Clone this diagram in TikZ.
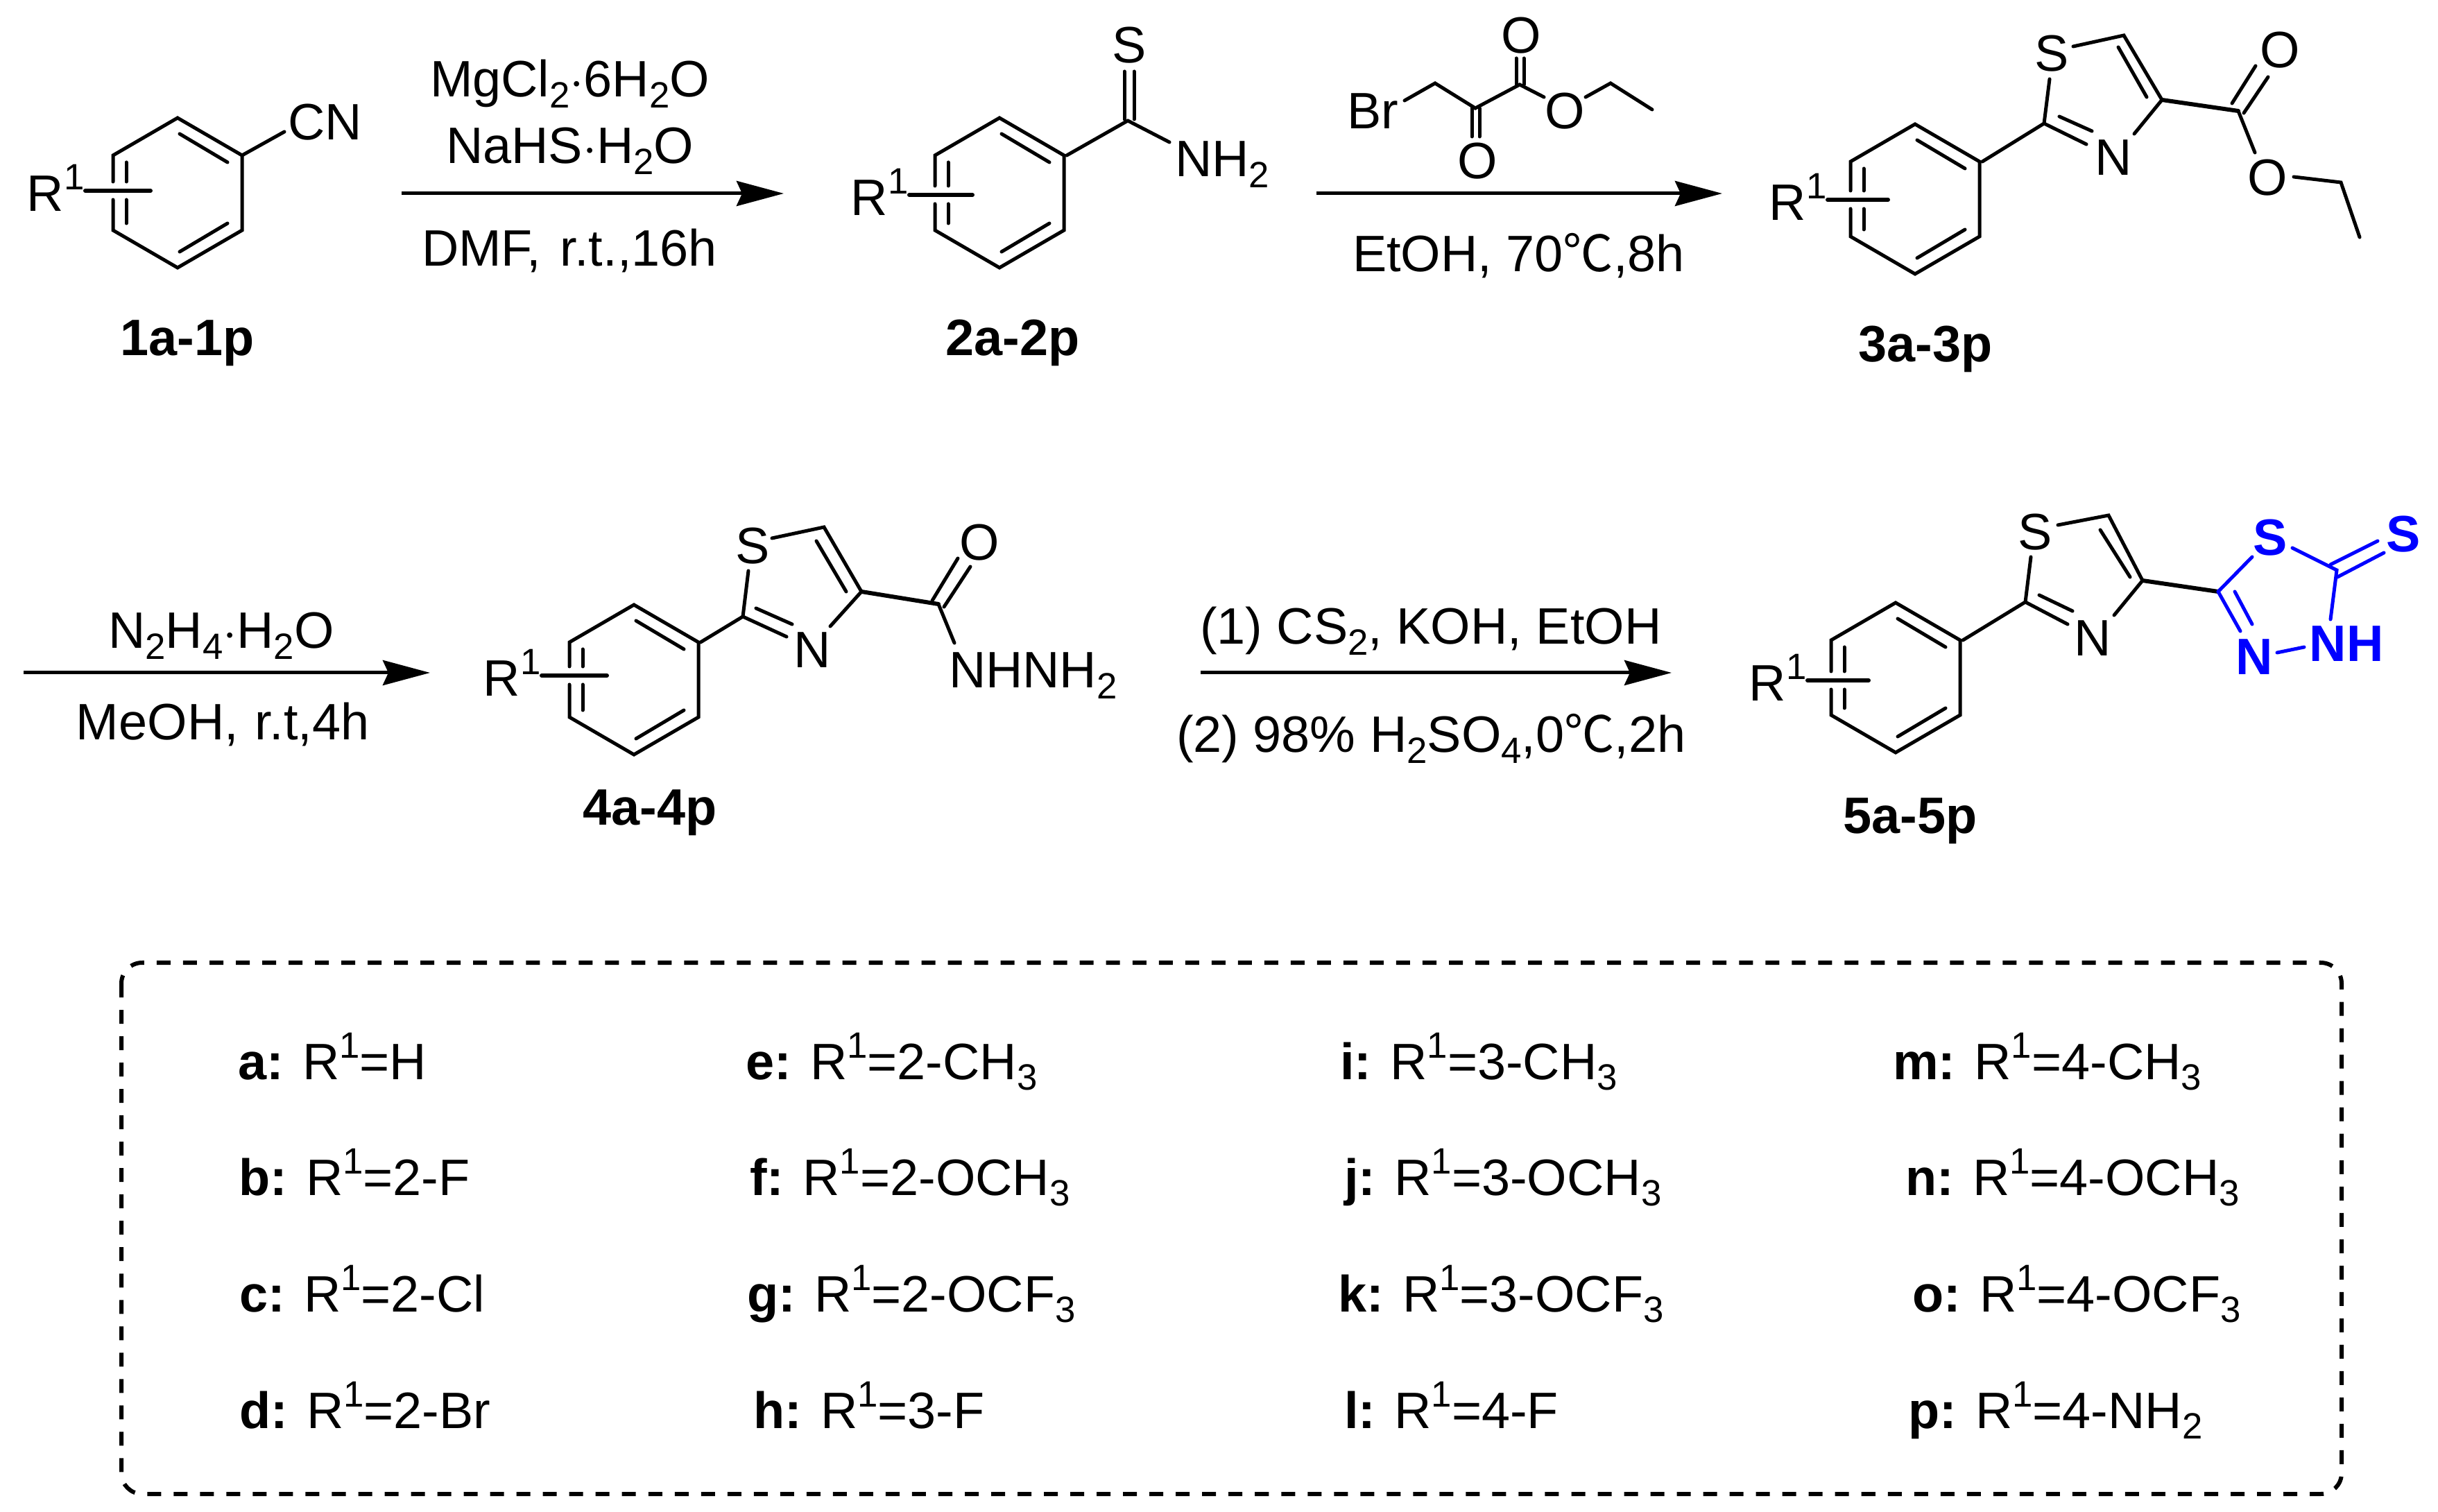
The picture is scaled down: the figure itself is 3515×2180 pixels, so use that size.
\documentclass[tikz,border=0pt]{standalone}
\usepackage{fontspec}
\setmainfont{Liberation Sans}
\newfontfamily\cjkf{Noto Sans CJK SC}[Scale=0.98]
\usetikzlibrary{arrows.meta}
\newcommand{\cel}{{\cjkf ℃}}
\newcommand{\sbs}[1]{\raisebox{-4.3pt}{\fontsize{15}{15}\selectfont #1}}
\newcommand{\sps}[1]{\raisebox{8.8pt}{\fontsize{15}{15}\selectfont #1}}
\definecolor{chemblue}{RGB}{0,0,255}
\tikzset{
  bond/.style={line width=0.05cm,line cap=round,line join=miter},
  bluebond/.style={bond,color=chemblue},
  heavybond/.style={bond,line width=0.06cm},
  barbond/.style={bond,line width=0.06cm},
  txt/.style={inner sep=0pt,outer sep=0pt,font=\fontsize{21}{21}\selectfont,anchor=base west},
  bfl/.style={txt,anchor=base,font=\fontsize{21}{21}\selectfont\bfseries},
  atom/.style={inner sep=0pt,outer sep=0pt,font=\fontsize{21}{21}\selectfont,anchor=center},
  blueatom/.style={atom,text=chemblue,font=\fontsize{21}{21}\selectfont\bfseries},
  rxn/.style={line width=0.05cm,-{Stealth[length=0.68cm,width=0.36cm,inset=0.08cm]}},
  box/.style={draw,line width=0.06cm,dash pattern=on 0.2cm off 0.18cm,rounded corners=0.3cm},
}
% benzene ring: #1 name prefix, (#2,#3) centre in px, #4 bar y offset in px, #5 R label x offset
\newcommand{\benz}[5]{%
  \begin{scope}[shift={(#2,#3)}]
    \coordinate (#1t) at (0,-108);
    \coordinate (#1ru) at (93,-54);
    \coordinate (#1rl) at (93,54);
    \coordinate (#1b) at (0,108);
    \coordinate (#1ll) at (-93,54);
    \coordinate (#1lu) at (-93,-54);
    \coordinate (#1gu) at (-93,#4-13);
    \coordinate (#1gl) at (-93,#4+13);
    \draw[bond] (#1gu)--(#1lu)--(#1t)--(#1ru)--(#1rl)--(#1b)--(#1ll)--(#1gl);
    \draw[bond] (3,-85)--(72,-44);
    \draw[bond] (72,44)--(3,85);
    \draw[bond] (-74,-44)--(-74,#4-13);
    \draw[bond] (-74,#4+13)--(-74,44);
    \coordinate (#1bar1) at (-133+#5,#4);
    \coordinate (#1bar2) at (-39,#4);
    \draw[barbond] (#1bar1)--(#1bar2);
    \node[txt] (#1R) at (-218+#5,#4+30) {R};
    \node[txt,font=\fontsize{15}{15}\selectfont] (#1one) at (-164+#5,#4-1) {1};
  \end{scope}}
\begin{document}
\begin{tikzpicture}[x=0.01cm,y=-0.01cm]
\useasboundingbox (0,0) rectangle (3515,2180);
\fill[white] (0,0) rectangle (3515,2180);

% ---------- compound 1
\benz{a}{256}{278}{-3}{0}
\coordinate (aCN) at (410,190);
\draw[bond] (aru)--(aCN);
\node[txt] (cn) at (415,202) {CN};
\node[bfl] (l1) at (270,513) {1a-1p};

% ---------- arrow 1
\coordinate (r1s) at (579,279); \coordinate (r1e) at (1130,279);
\draw[rxn] (r1s)--(r1e);
\node[txt] (t1) at (620,140) {MgCl\sbs{2}$\cdot$6H\sbs{2}O};
\node[txt] (t2) at (643,236) {NaHS$\cdot$H\sbs{2}O};
\node[txt] (t3) at (608,384) {DMF,\hspace{2pt} r.t.,16h};

% ---------- compound 2
\benz{b}{1441}{278}{3}{3}
\begin{scope}[xshift=-0.04cm]
\coordinate (bC) at (1630,174);
\draw[bond] (bru)++(4,0)--(bC);
\coordinate (bs1) at (1625,103); \coordinate (bs2) at (1625,172);
\coordinate (bs3) at (1639,103); \coordinate (bs4) at (1639,172);
\draw[bond] (bs1)--(bs2); \draw[bond] (bs3)--(bs4);
\node[atom] (bS) at (1632,65) {S};
\coordinate (bNe) at (1690,205);
\draw[bond] (bC)--(bNe);
\node[txt] (bN) at (1698,255) {NH\sbs{2}};
\end{scope}
\node[bfl] (l2) at (1460,513) {2a-2p};

% ---------- reagent above arrow 2
\begin{scope}[xshift=-0.02cm]
\node[atom] (brO1) at (2195,51) {O};
\node[atom] (brO2) at (2132,232) {O};
\node[atom] (brO3) at (2258,160) {O};
\node[atom] (brBr) at (1981,160) {Br};
\coordinate (br1) at (2071,120); \coordinate (br2) at (2129,156); \coordinate (br3) at (2193,122);
\coordinate (br4) at (2324,120); \coordinate (br5) at (2384,158);
\draw[bond] (2027,145)--(br1)--(br2)--(br3)--(2228,140);
\draw[bond] (2288,140)--(br4)--(br5);
\draw[bond] (2124,156)--(2124,197); \draw[bond] (2135,156)--(2135,197);
\draw[bond] (2188,122)--(2188,84); \draw[bond] (2199,122)--(2199,84);
\end{scope}

% ---------- arrow 2
\coordinate (r2s) at (1898,279); \coordinate (r2e) at (2483,279);
\draw[rxn] (r2s)--(r2e);
\node[txt] (t4) at (1950,392) {EtOH, 70\cel,8h};

% ---------- compound 3
\benz{c}{2761}{287}{1}{7}
\begin{scope}[xshift=-0.04cm]
\coordinate (c2) at (2951,178); \coordinate (c5) at (3066,51); \coordinate (c4) at (3121,144);
\coordinate (cC) at (3231,160); \coordinate (cE1) at (3379,263); \coordinate (cE2) at (3406,342);
\node[atom] (cS) at (2962,77) {S};
\node[atom] (cN) at (3051,227) {N};
\node[atom] (cO1) at (3291,72) {O};
\node[atom] (cO2) at (3273,256) {O};
\draw[bond] (cru)++(4,0)--(c2)--(2959,114);
\draw[bond] (2993,67)--(c5)--(c4)--(3081,193);
\draw[bond] (3058,68)--(3099,140);
\draw[bond] (c2)--(3012,208); \draw[bond] (2973,168)--(3020,189);
\draw[heavybond] (c4)--(cC);
\draw[bond] (3222,149)--(3256,95); \draw[bond] (3239,163)--(3274,111);
\draw[bond] (cC)--(3255,220);
\draw[bond] (3311,255)--(cE1)--(cE2);
\end{scope}
\node[bfl] (l3) at (2776,522) {3a-3p};

% ---------- arrow 3
\coordinate (r3s) at (34,970); \coordinate (r3e) at (620,970);
\draw[rxn] (r3s)--(r3e);
\node[txt] (t5) at (156,935) {N\sbs{2}H\sbs{4}$\cdot$H\sbs{2}O};
\node[txt] (t6) at (110,1067) {MeOH,\hspace{1pt} r.t,4h};

% ---------- compound 4
\benz{d}{914}{980}{-6}{0}
\begin{scope}[xshift=-0.03cm]
\coordinate (d2) at (1074,889); \coordinate (d5) at (1191,760); \coordinate (d4) at (1245,853);
\coordinate (dC) at (1356,871);
\node[atom] (dS) at (1088,787) {S};
\node[atom] (dN) at (1174,937) {N};
\node[atom] (dO) at (1415,782) {O};
\draw[bond] (dru)++(3,0)--(d2)--(1082,823);
\draw[bond] (1116,776)--(d5)--(d4)--(1200,903);
\draw[bond] (1180,780)--(1223,853);
\draw[bond] (d2)--(1137,918); \draw[bond] (1093,877)--(1145,900);
\draw[heavybond] (d4)--(dC);
\draw[bond] (1347,866)--(1384,805); \draw[bond] (1364,875)--(1402,817);
\draw[bond] (dC)--(1379,927);
\node[txt] (dNH) at (1371,992) {NHNH\sbs{2}};
\end{scope}
\node[bfl] (l4) at (937,1189) {4a-4p};

% ---------- arrow 4
\coordinate (r4s) at (1731,970); \coordinate (r4e) at (2410,970);
\draw[rxn] (r4s)--(r4e);
\node[txt] (t7) at (1730,929) {(1) CS\sbs{2}, KOH, EtOH};
\node[txt] (t8) at (1696,1085) {(2) 98\% H\sbs{2}SO\sbs{4},0\cel,2h};

% ---------- compound 5
\benz{e}{2733}{977}{4}{6}
\begin{scope}[xshift=-0.04cm]
\coordinate (e2) at (2924,868); \coordinate (e5) at (3044,743); \coordinate (e4) at (3093,837);
\node[atom] (eS) at (2938,767) {S};
\node[atom] (eN) at (3021,920) {N};
\draw[bond] (eru)++(4,0)--(e2)--(2932,803);
\draw[bond] (2971,757)--(e5)--(e4)--(3052,887);
\draw[bond] (3032,764)--(3075,832);
\draw[bond] (e2)--(2985,900); \draw[bond] (2944,858)--(2992,881);
\end{scope}
\coordinate (eC) at (3198,853); \coordinate (eT) at (3369,822);
\draw[heavybond] (e4)--(eC);
\node[blueatom] (eS1) at (3273,775) {S};
\node[blueatom] (eS2) at (3465,770) {S};
\node[blueatom] (eN1) at (3250,947) {N};
\node[blueatom] (eNH) at (3383,928) {NH};
\draw[bluebond] (eC)--(3247,803);
\draw[bluebond] (3305,790)--(eT)--(3360,893);
\draw[bluebond] (3360,814)--(3428,780); \draw[bluebond] (3370,832)--(3437,797);
\draw[bluebond] (eC)--(3230,910); \draw[bluebond] (3222,853)--(3247,900);
\draw[bluebond] (3283,941)--(3322,933);
\node[bfl] (l5) at (2754,1202) {5a-5p};

% ---------- dashed box
\draw[box] (175,1388) rectangle (3376,2154);
\foreach \nm/\x/\y/\lab/\val in {
  ra/343/1556/a:/{=H},
  rb/344/1723/b:/{=2-F},
  rc/345/1891/c:/{=2-Cl},
  rd/345/2059/d:/{=2-Br},
  re/1075/1556/e:/{=2-CH\sbs{3}},
  rf/1081/1723/f:/{=2-OCH\sbs{3}},
  rg/1077/1891/g:/{=2-OCF\sbs{3}},
  rh/1086/2059/h:/{=3-F},
  ri/1932/1556/i:/{=3-CH\sbs{3}},
  rj/1938/1723/j:/{=3-OCH\sbs{3}},
  rk/1929/1891/k:/{=3-OCF\sbs{3}},
  rl/1938/2059/l:/{=4-F},
  rm/2729/1556/m:/{=4-CH\sbs{3}},
  rn/2747/1723/n:/{=4-OCH\sbs{3}},
  ro/2757/1891/o:/{=4-OCF\sbs{3}},
  rp/2751/2059/p:/{=4-NH\sbs{2}}}
{ \node[txt] (\nm) at (\x,\y) {\textbf{\lab} R\sps{1}\val}; }
\end{tikzpicture}
\end{document}
